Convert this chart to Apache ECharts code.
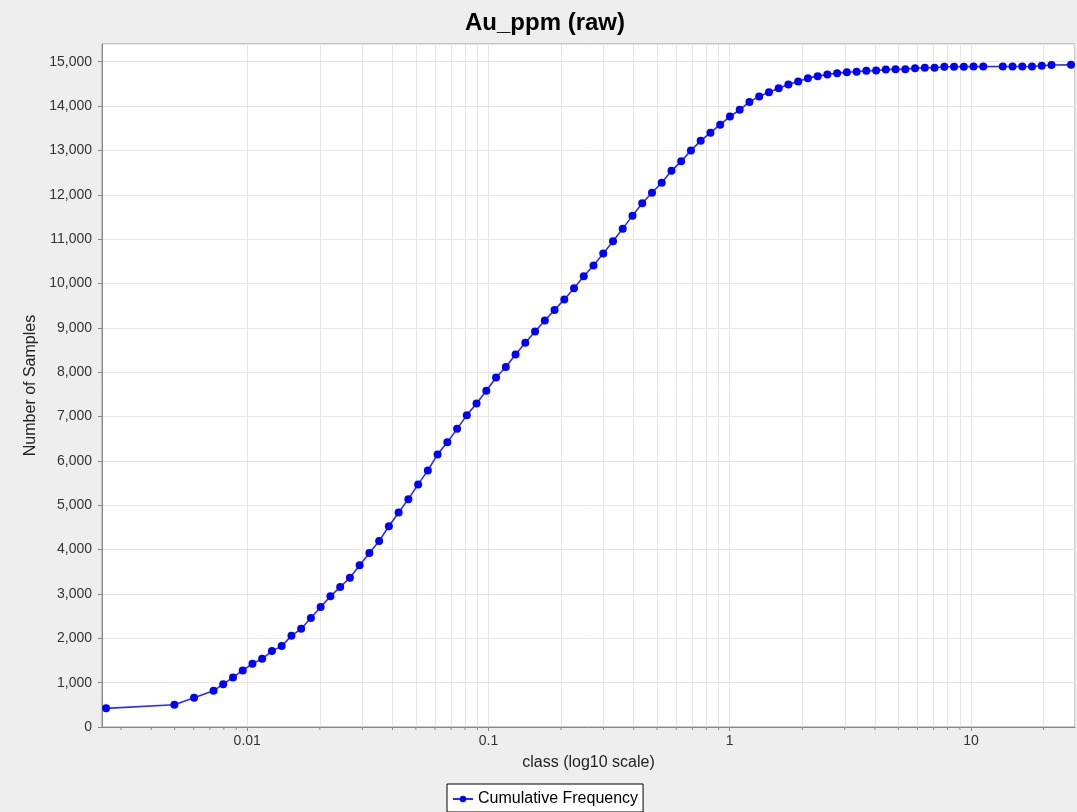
<!DOCTYPE html>
<html>
<head>
<meta charset="utf-8">
<title>Au_ppm (raw)</title>
<script src="https://cdn.jsdelivr.net/npm/echarts@6/dist/echarts.min.js"></script>
<style>
  html, body { margin: 0; padding: 0; background: #eeeeee; }
  #chart { width: 1077px; height: 812px; }
</style>
</head>
<body>
<div id="chart"></div>
<script>
// class values (log10 x axis)
var classValues = [
  0.0026, 0.00499, 0.00602, 0.00725, 0.00795, 0.00873, 0.00958, 0.01051, 0.01153, 0.01266,
  0.01389, 0.01525, 0.01673, 0.01836, 0.02015, 0.02212, 0.02428, 0.02664, 0.02924, 0.03209,
  0.03522, 0.03865, 0.04242, 0.04655, 0.05109, 0.05607, 0.06153, 0.06753, 0.07411, 0.08134,
  0.08926, 0.09796, 0.1075, 0.118, 0.1295, 0.1421, 0.156, 0.1712, 0.1879, 0.2062,
  0.2263, 0.2483, 0.2725, 0.2991, 0.3283, 0.3602, 0.3954, 0.4339, 0.4762, 0.5226,
  0.5735, 0.6294, 0.6908, 0.7581, 0.832, 0.913, 1.002, 1.1, 1.207, 1.325,
  1.454, 1.596, 1.751, 1.922, 2.109, 2.315, 2.54, 2.788, 3.059, 3.358,
  3.685, 4.045, 4.438, 4.871, 5.346, 5.867, 6.439, 7.066, 7.755, 8.511,
  9.34, 10.25, 11.25, 13.55, 14.87, 16.32, 17.91, 19.66, 21.58, 25.99
];
// cumulative number of samples
var cumulativeCounts = [
  420, 500, 657, 815, 966, 1117, 1275, 1424, 1537, 1711,
  1824, 2056, 2214, 2456, 2704, 2946, 3156, 3366, 3646, 3923,
  4194, 4526, 4837, 5138, 5470, 5786, 6147, 6418, 6722, 7032,
  7293, 7580, 7880, 8117, 8397, 8664, 8919, 9165, 9402, 9641,
  9894, 10165, 10406, 10679, 10955, 11237, 11530, 11808, 12045, 12273,
  12540, 12754, 13000, 13217, 13400, 13580, 13765, 13916, 14095, 14219,
  14314, 14400, 14488, 14555, 14630, 14675, 14713, 14743, 14765, 14774,
  14797, 14800, 14826, 14828, 14830, 14856, 14865, 14866, 14887, 14888,
  14889, 14890, 14890, 14891, 14892, 14893, 14894, 14910, 14925, 14930
];
var seriesName = "Cumulative Frequency";
var xMin = 0.0025;
var xMax = 27;

// log minor grid positions (2..9 within each decade)
var minorTicks = [];
[0.001, 0.01, 0.1, 1, 10].forEach(function (d) {
  for (var m = 2; m <= 9; m++) {
    var v = +(m * d).toPrecision(6);
    if (v > xMin && v < xMax) minorTicks.push(v);
  }
});

var font = "'Liberation Sans', Arial, sans-serif";
var chart = echarts.init(document.getElementById("chart"));

chart.setOption({
  backgroundColor: "#eeeeee",
  animation: false,
  textStyle: { fontFamily: font },
  title: {
    text: "Au_ppm (raw)",
    left: 460,
    top: 6,
    textStyle: { fontSize: 24, fontWeight: "bold", color: "#000", fontFamily: font },
  },
  legend: {
    data: [seriesName],
    left: 447,
    top: 784,
    padding: [7, 5, 5, 5],
    itemWidth: 20,
    itemHeight: 8,
    borderColor: "#000",
    borderWidth: 1,
    backgroundColor: "#fff",
    textStyle: { fontSize: 16, color: "#000", fontFamily: font },
  },
  grid: {
    left: 102,
    right: 2,
    top: 44,
    height: 683,
    show: true,
    backgroundColor: "#fff",
    borderColor: "#999",
    borderWidth: 1,
  },
  xAxis: {
    type: "log",
    logBase: 10,
    min: xMin,
    max: xMax,
    name: "class (log10 scale)",
    nameLocation: "middle",
    nameGap: 28,
    nameTextStyle: { fontSize: 16, color: "#222", fontFamily: font },
    axisLine: { show: true, lineStyle: { color: "#888" } },
    axisTick: { show: true, length: 4, lineStyle: { color: "#888" } },
    axisLabel: {
      fontSize: 14,
      color: "#333",
      margin: 7,
      showMinLabel: false,
      showMaxLabel: false,
      formatter: function (v) {
        return String(+(+v).toPrecision(6));
      },
    },
    splitLine: { show: true, lineStyle: { color: "#e6e6e6", width: 1 } },
  },
  yAxis: {
    type: "value",
    min: 0,
    max: 15400,
    interval: 1000,
    name: "Number of Samples",
    nameLocation: "middle",
    nameGap: 61,
    nameTextStyle: { fontSize: 16, color: "#222", fontFamily: font },
    axisLine: { show: true, lineStyle: { color: "#888" } },
    axisTick: { show: true, length: 4, lineStyle: { color: "#888" } },
    axisLabel: {
      fontSize: 14,
      color: "#333",
      margin: 10,
      showMaxLabel: false,
      formatter: function (v) {
        return v.toLocaleString("en-US");
      },
    },
    splitLine: { show: true, lineStyle: { color: "#e6e6e6", width: 1 } },
  },
  series: [
    {
      name: seriesName,
      type: "line",
      z: 3,
      data: classValues.map(function (x, i) {
        return [x, cumulativeCounts[i]];
      }),
      symbol: "circle",
      symbolSize: 8,
      showAllSymbol: true,
      itemStyle: { color: "#0000ff" },
      lineStyle: { color: "#2a2aff", width: 1.6 },
      markLine: {
        silent: true,
        z: 1,
        symbol: "none",
        label: { show: false },
        lineStyle: { color: "#e6e6e6", type: "solid", width: 1 },
        data: minorTicks.map(function (v) {
          return { xAxis: v };
        }),
      },
    },
    {
      name: "minorTicks",
      type: "custom",
      silent: true,
      clip: false,
      data: minorTicks.map(function (v) {
        return [v, 0];
      }),
      encode: { x: 0, y: 1 },
      renderItem: function (params, api) {
        var p = api.coord([api.value(0), 0]);
        return {
          type: "line",
          shape: { x1: p[0], y1: p[1], x2: p[0], y2: p[1] + 3 },
          style: { stroke: "#888", lineWidth: 1 },
        };
      },
    },
  ],
});
</script>
</body>
</html>
